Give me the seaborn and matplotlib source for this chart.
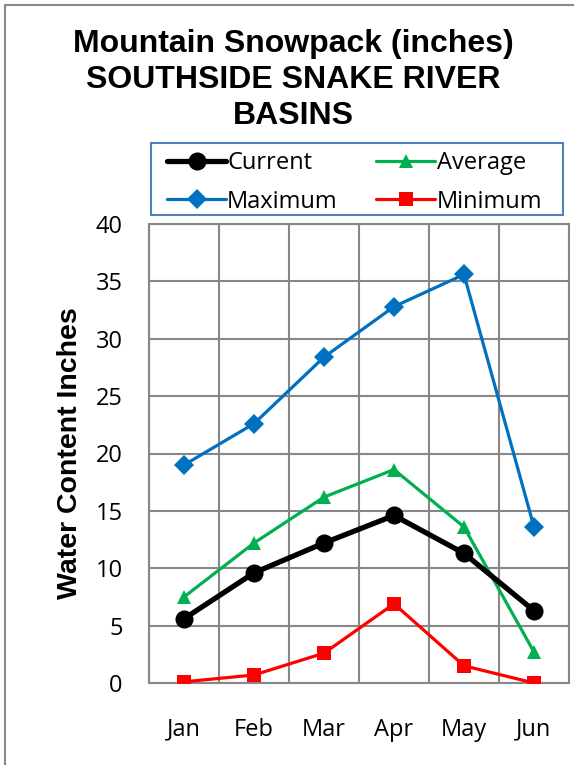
import matplotlib
matplotlib.use("Agg")
import matplotlib.pyplot as plt
from matplotlib.lines import Line2D
from matplotlib.patches import Rectangle
import seaborn as sns
import pandas as pd

months = ["Jan", "Feb", "Mar", "Apr", "May", "Jun"]
current = [5.6, 9.6, 12.2, 14.6, 11.3, 6.3]
average = [7.5, 12.2, 16.2, 18.6, 13.6, 2.7]
maximum = [19.0, 22.6, 28.4, 32.8, 35.6, 13.6]
minimum = [0.1, 0.7, 2.6, 6.9, 1.5, 0.0]

title_lines = ["Mountain Snowpack (inches)", "SOUTHSIDE SNAKE RIVER", "BASINS"]
y_label = "Water Content Inches"

sns.set_theme(style="white")
plt.rcParams["font.family"] = ["Open Sans", "DejaVu Sans"]
plt.rcParams["text.color"] = "black"
plt.rcParams["axes.labelcolor"] = "black"

W, H = 574, 765
fig = plt.figure(figsize=(W / 100, H / 100), dpi=100)
fig.patch.set_facecolor("white")

ax = fig.add_axes([149 / W, (H - 683) / H, 420 / W, 459 / H])

series = [
    ("Current", current, "#000000", "o", 13, 3.8),
    ("Maximum", maximum, "#0070C0", "D", 10, 2.3),
    ("Average", average, "#00B050", "^", 9.5, 2.3),
    ("Minimum", minimum, "#FF0000", "s", 9.5, 2.3),
]

handles = []
for name, vals, color, marker, ms, lw in series:
    df = pd.DataFrame({"Month": months, "Value": vals})
    sns.lineplot(data=df, x="Month", y="Value", ax=ax, color=color, marker=marker,
                 markersize=ms, linewidth=lw, markeredgewidth=0, sort=False,
                 zorder=5 if name == "Current" else 4, legend=False)
    handles.append(Line2D([0], [0], color=color, marker=marker, markersize=ms,
                          linewidth=lw, markeredgewidth=0, label=name))

grid_color = "#878787"
ax.set_xlim(-0.5, len(months) - 0.5)
ax.set_ylim(0, 40)
ax.set_yticks(range(0, 41, 5))
ax.set_xticks(range(len(months)))
ax.set_xticklabels(months)
ax.set_xticks([i - 0.5 for i in range(len(months) + 1)], minor=True)
ax.grid(True, which="minor", axis="x", color=grid_color, linewidth=1.5)
ax.grid(True, which="major", axis="y", color=grid_color, linewidth=1.5)
ax.grid(False, which="major", axis="x")
ax.set_axisbelow(True)
for sp in ax.spines.values():
    sp.set_visible(True)
    sp.set_color(grid_color)
    sp.set_linewidth(1.5)
ax.tick_params(axis="both", which="both", length=0, labelsize=17, colors="black")
ax.tick_params(axis="y", pad=19)
ax.tick_params(axis="x", pad=25)
ax.set_xlabel("")
ax.set_ylabel(y_label, fontsize=20.5, fontweight="bold", family="Liberation Sans",
              labelpad=9)

# chart title
title_y = [44, 80, 116]
for text, yy in zip(title_lines, title_y):
    fig.text(293 / W, 1 - yy / H, text, ha="center", va="center",
             fontsize=23, fontweight="bold", family="Liberation Sans", color="black")

# legend entries, with a separate box drawn around them
leg = fig.legend(handles=handles, loc="upper left", ncol=2,
                 bbox_to_anchor=(167 / W, 1 - 151 / H),
                 fontsize=17, frameon=False, handlelength=2.5,
                 handletextpad=0.05, borderaxespad=0, columnspacing=1.63,
                 labelspacing=0.62, borderpad=0)
fig.add_artist(Rectangle((151 / W, 1 - 215 / H), 412 / W, 72 / H,
                         transform=fig.transFigure, fill=False,
                         edgecolor="#4F81BD", linewidth=1.5))

# outer chart border (left and top edges)
fig.add_artist(Line2D([4.5 / W, 4.5 / W], [0, 1 - 4.5 / H], color="#898989",
                      linewidth=1.5, transform=fig.transFigure))
fig.add_artist(Line2D([4.5 / W, 1], [1 - 4.5 / H, 1 - 4.5 / H], color="#898989",
                      linewidth=1.5, transform=fig.transFigure))

fig.savefig("out.png", dpi=100)
